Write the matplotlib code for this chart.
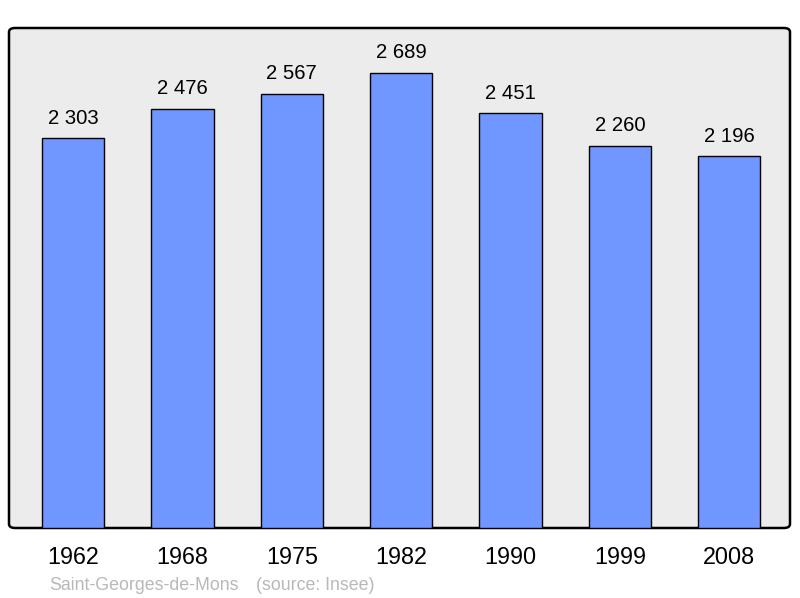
import matplotlib
matplotlib.use('Agg')
import matplotlib.pyplot as plt
from matplotlib.patches import FancyBboxPatch

plt.rcParams['font.family'] = ['Liberation Sans', 'DejaVu Sans']

years = ['1962', '1968', '1975', '1982', '1990', '1999', '2008']
population = [2303, 2476, 2567, 2689, 2451, 2260, 2196]
commune = 'Saint-Georges-de-Mons'
source = '(source: Insee)'

fig = plt.figure(figsize=(8, 5.98), dpi=100)
ax = fig.add_axes([9 / 800, 70 / 598, 781 / 800, 500 / 598])
ax.set_facecolor('none')
for s in ax.spines.values():
    s.set_visible(False)

# fond gris arrondi
bg = FancyBboxPatch((0, 0), 1, 1, boxstyle='round,pad=0,rounding_size=0.008',
                    transform=ax.transAxes, facecolor='#ececec',
                    edgecolor='black', linewidth=1.8, zorder=0, clip_on=False)
ax.add_patch(bg)

x = list(range(len(years)))
ax.bar(x, population, width=0.57, color='#7097ff', edgecolor='black',
       linewidth=1.0, zorder=2)

for xi, v in zip(x, population):
    label = f'{v:,}'.replace(',', ' ')
    ax.annotate(label, (xi, v), xytext=(0, 10.5), textcoords='offset points',
                ha='center', va='baseline', fontsize=14.6)

ax.set_xlim(-0.585, 6.555)
ax.set_ylim(0, 2955)
ax.set_yticks([])
ax.set_xticks(x)
ax.set_xticklabels(years, fontsize=16.8)
ax.tick_params(axis='x', length=0, pad=13)

fig.text(49 / 800, 8 / 598, commune, color='#b8b8b8', fontsize=12.8, va='baseline')
fig.text(256 / 800, 8 / 598, source, color='#b8b8b8', fontsize=12.8, va='baseline')

fig.savefig('out.png', dpi=100)
